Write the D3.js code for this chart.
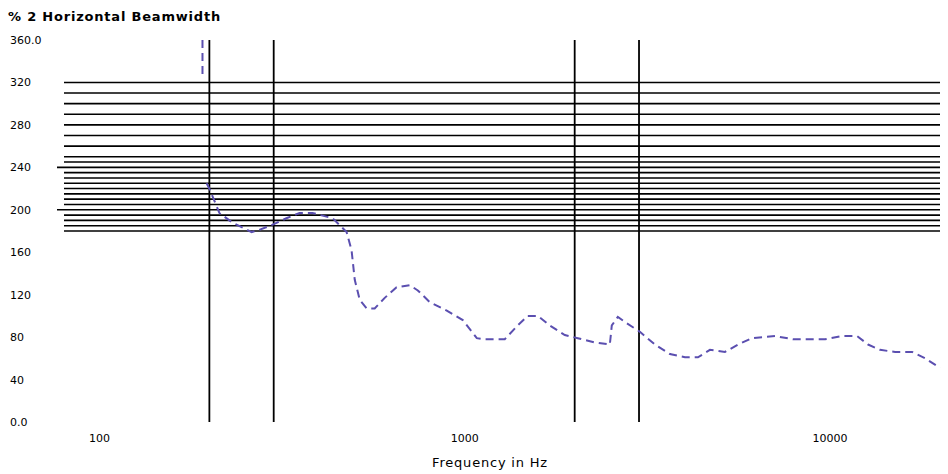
<!DOCTYPE html>
<html><head><meta charset="utf-8">
<script src="https://cdn.jsdelivr.net/npm/d3@7"></script>
<style>body{margin:0;background:#fff}svg{display:block}text{font-family:"DejaVu Sans",Arial,sans-serif;fill:#000}</style>
</head><body><svg id="c" width="948" height="474"></svg>
<script>
const title = "% 2 Horizontal Beamwidth";
const xLabel = "Frequency in Hz";
const yTickValues = [360, 320, 280, 240, 200, 160, 120, 80, 40, 0];
const yTickLabels = ["360.0", "320", "280", "240", "200", "160", "120", "80", "40", "0.0"];
const xTickValues = [100, 1000, 10000];
const xTickLabels = ["100", "1000", "10000"];
const refFreqs = [200, 300, 2000, 3000];
const refLevels = [320,310,300,290,280,270,260,250,245,240,235,230,225,220,215,210,205,200,195,190,185,180];
const longRefLevels = [240, 200];
const freqs = [191.5,191.5,null,196.5,200,213,231,261,274,298,325,353,383,435,475,490,500,516,539,567,604,651,707,744,802,893,988,1079,1134,1287,1397,1488,1585,1710,1879,2040,2271,2496,2527,2625,2779,3017,3316,3645,4007,4350,4691,5157,5597,6114,7069,7918,9690,10788,11858,12709,13709,15070,16775,18209,20000];
const beamwidth = [360,327,null,225,220,197,188,179,181,186,192,197,197,192,179,162,134,115,107,107,117,127,129,124,113,105,96,79,78,78,91,100,100,91,82,79,75,73,91,99,93,85,73,64,61,61,68,66,73,79,81,78,78,81,81,73,68,66,66,60,51];

const svg = d3.select("#c");
const x = d3.scaleLog().domain([80, 20000]).range([64, 940]);
const y = d3.scaleLinear().domain([0, 360]).range([422, 40]);

svg.append("text").attr("x", 8).attr("y", 21).attr("font-size", 13).attr("font-weight", "bold")
  .attr("letter-spacing", 0.8).text(title);

svg.append("g").selectAll("text").data(yTickValues).join("text")
  .attr("x", 10).attr("y", d => y(d) + 4).attr("font-size", 11)
  .text((d, i) => yTickLabels[i]);

svg.append("g").selectAll("text").data(xTickValues).join("text")
  .attr("x", d => x(d)).attr("y", 442).attr("text-anchor", "middle").attr("font-size", 11)
  .text((d, i) => xTickLabels[i]);

svg.append("text").attr("x", 490).attr("y", 467).attr("text-anchor", "middle").attr("font-size", 13)
  .attr("letter-spacing", 0.8).text(xLabel);

svg.append("g").selectAll("line").data(refLevels).join("line")
  .attr("x1", d => longRefLevels.includes(d) ? 57 : 64).attr("x2", 940)
  .attr("y1", d => y(d)).attr("y2", d => y(d))
  .attr("stroke", "#000").attr("stroke-width", 1.6);

svg.append("g").selectAll("line").data(refFreqs).join("line")
  .attr("x1", d => x(d)).attr("x2", d => x(d))
  .attr("y1", y(360)).attr("y2", y(0))
  .attr("stroke", "#000").attr("stroke-width", 1.8);

const pts = freqs.map((f, i) => ({f, v: beamwidth[i]}));
const line = d3.line().defined(d => d.f != null && d.v != null).x(d => x(d.f)).y(d => y(d.v));
svg.append("path").attr("d", line(pts)).attr("fill", "none")
  .attr("stroke", "#5b4fb0").attr("stroke-width", 2).attr("stroke-dasharray", "8,5");
</script></body></html>
